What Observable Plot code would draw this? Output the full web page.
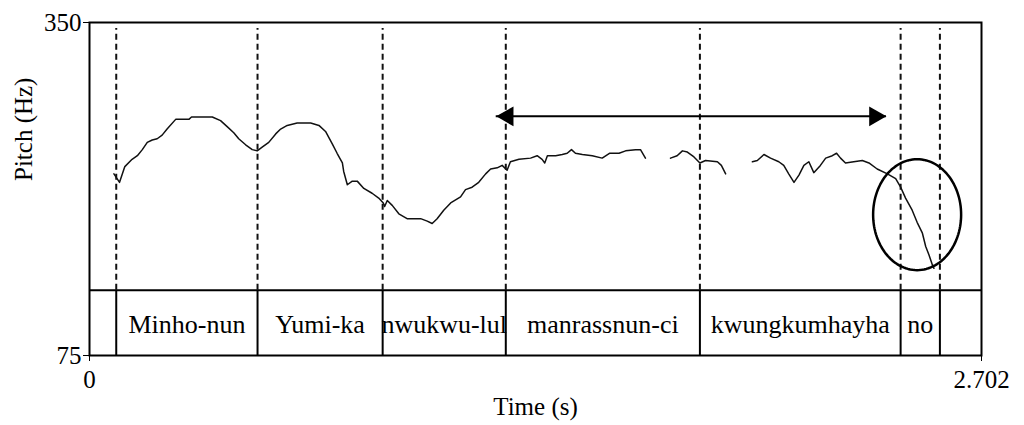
<!DOCTYPE html>
<html>
<head>
<meta charset="utf-8">
<script src="https://cdn.jsdelivr.net/npm/d3@7"></script>
<script src="https://cdn.jsdelivr.net/npm/@observablehq/plot@0.6"></script>
<style>
  body { margin: 0; background: #fff; }
</style>
</head>
<body>
<div id="chart"></div>
<script>
// F0 contour (time in s, pitch in Hz), one pair of arrays per voiced stretch
const seg1Time = [0.074,0.091,0.107,0.129,0.145,0.160,0.175,0.190,0.205,0.220,0.235,0.261,0.301,0.309,0.372,0.397,0.417,0.437,0.452,0.473,0.493,0.508,0.523,0.543,0.564,0.579,0.599,0.629,0.670,0.695,0.715,0.735,0.750,0.766,0.770,0.781,0.796,0.811,0.831,0.856,0.876,0.890,0.894,0.902,0.917,0.937,0.962,1.003,1.023,1.038,1.053,1.073,1.094,1.124,1.139,1.159,1.179,1.200,1.215,1.235,1.250,1.265,1.275,1.301,1.336,1.356,1.371,1.379,1.387,1.412,1.432,1.447,1.460,1.472,1.493,1.523,1.553,1.575,1.604,1.624,1.654,1.669,1.684];
const seg1Hz = [225,218,231,237,240,245,251,253,254,257,262,270,270,272,272,269,264,259,254,249,245,244,247,251,258,262,265,267,267,265,260,250,242,234,227,216,219,219,213,209,205,201,198,203,199,192,188,188,186,184,188,195,201,206,212,214,218,225,229,230,232,228,235,237,238,240,237,234,240,240,241,242,245,242,241,240,238,242,242,244,245,245,238];

const seg2Time = [1.760,1.780,1.796,1.811,1.831,1.849,1.866,1.902,1.914,1.927];
const seg2Hz = [238,240,244,243,239,234,236,235,232,225];

const seg3Time = [2.008,2.023,2.043,2.063,2.088,2.103,2.118,2.134,2.149,2.164,2.179,2.194,2.214,2.230,2.250,2.263,2.275,2.290,2.315,2.341,2.361,2.386,2.417,2.442,2.457,2.472,2.492,2.507,2.523,2.533,2.543,2.553,2.558];
const seg3Hz = [235,236,241,238,235,232,225,218,224,232,235,226,232,238,240,242,238,234,235,236,234,229,225,221,214,205,195,185,176,165,158,150,147];

// Word tier: interval boundaries (s) and the word in each interval
const wordBounds = [0.081, 0.509, 0.888, 1.261, 1.849, 2.457, 2.576];
const words = ["Minho-nun", "Yumi-ka", "nwukwu-lul", "manrassnun-ci", "kwungkumhayha", "no"];

// Axis ranges and tick labels
const timeDomain = [0, 2.702];
const hzDomain = [75, 350];
const xTicks = [0, 2.702];
const xTickLabels = ["0", "2.702"];
const yTicks = [75, 350];
const yTickLabels = ["75", "350"];

// Tier band top (on the Hz axis) and where the dashed boundaries stop
const tierTop = 128.8;
const dashTop = 345;

// Double arrow over the high plateau
const arrowFrom = 1.232;
const arrowTo = 2.414;
const arrowHz = 272.5;

// Ellipse round the final fall: centre and half-extents
const ringTime = 2.507;
const ringHz = 191.3;
const ringHalfTime = 0.1333;
const ringHalfHz = 45.8;

// Build tables for the marks
const pitch = [
  ...seg1Time.map((t, i) => ({t, hz: seg1Hz[i], seg: 1})),
  ...seg2Time.map((t, i) => ({t, hz: seg2Hz[i], seg: 2})),
  ...seg3Time.map((t, i) => ({t, hz: seg3Hz[i], seg: 3}))
];
const tier = words.map((w, i) => ({word: w, mid: (wordBounds[i] + wordBounds[i + 1]) / 2}));
const ring = d3.range(0, 360, 3).map(a => {
  const r = a * Math.PI / 180;
  return {t: ringTime + ringHalfTime * Math.cos(r), hz: ringHz + ringHalfHz * Math.sin(r)};
});

const font = "Liberation Serif, Times New Roman, serif";

const chart = Plot.plot({
  width: 1024,
  height: 425,
  marginTop: 22,
  marginBottom: 70,
  marginLeft: 89,
  marginRight: 43,
  style: {fontFamily: font, fontSize: "25px", color: "#000", background: "#fff"},
  x: {
    domain: timeDomain,
    ticks: xTicks,
    tickFormat: d => xTickLabels[xTicks.indexOf(d)],
    tickSize: 6,
    tickPadding: 9,
    label: null
  },
  y: {
    domain: hzDomain,
    ticks: yTicks,
    tickFormat: d => yTickLabels[yTicks.indexOf(d)],
    tickSize: 6,
    tickPadding: 2,
    label: null
  },
  marks: [
    // tier separator and word boundaries
    Plot.ruleY([tierTop], {stroke: "#000", strokeWidth: 2}),
    Plot.ruleX(wordBounds, {x: d => d, y1: tierTop, y2: dashTop, stroke: "#111", strokeWidth: 2, strokeDasharray: "6,4"}),
    Plot.ruleX(wordBounds, {x: d => d, y1: hzDomain[0], y2: tierTop, stroke: "#000", strokeWidth: 2}),
    Plot.text(tier, {x: "mid", y: (tierTop + hzDomain[0]) / 2, text: "word", fontSize: 26, fontFamily: font, fill: "#000", dy: 2}),
    // pitch contour
    Plot.line(pitch, {x: "t", y: "hz", z: "seg", stroke: "#111", strokeWidth: 1.5}),
    // double-headed arrow
    Plot.ruleY([arrowHz], {x1: arrowFrom, x2: arrowTo, stroke: "#000", strokeWidth: 2}),
    Plot.dot([arrowFrom], {x: d => d, y: arrowHz, symbol: "triangle", r: 7.4, rotate: -90, fill: "#000", stroke: null, dx: 11.5}),
    Plot.dot([arrowTo], {x: d => d, y: arrowHz, symbol: "triangle", r: 7.4, rotate: 90, fill: "#000", stroke: null, dx: -11.5}),
    // ellipse marking the final fall
    Plot.line(ring, {x: "t", y: "hz", curve: "linear-closed", stroke: "#000", strokeWidth: 2.5}),
    Plot.frame({stroke: "#000", strokeWidth: 2}),
    // axis titles
    Plot.text(["Time (s)"], {frameAnchor: "bottom", text: d => d, dy: 59, fontSize: 25, fontFamily: font, fill: "#000"}),
    Plot.text(["Pitch (Hz)"], {frameAnchor: "left", text: d => d, rotate: -90, dx: -66, dy: -8, fontSize: 25, fontFamily: font, fill: "#000"})
  ]
});

document.getElementById("chart").appendChild(chart);
</script>
</body>
</html>
